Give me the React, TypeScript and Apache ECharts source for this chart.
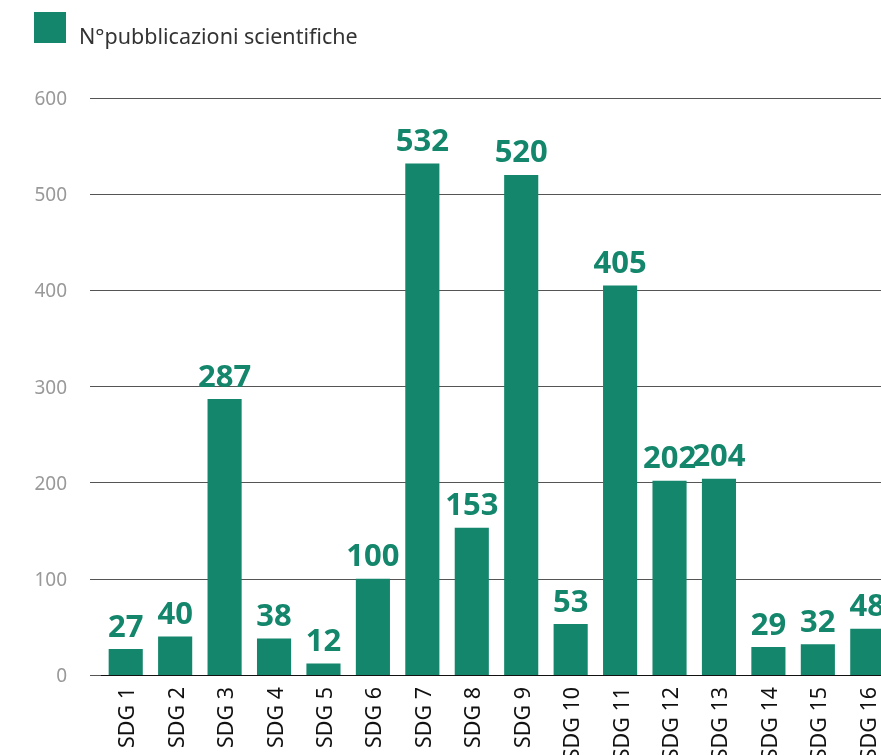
import React, { useEffect, useRef } from "react";
import * as echarts from "echarts";

const categories = ["SDG 1", "SDG 2", "SDG 3", "SDG 4", "SDG 5", "SDG 6", "SDG 7", "SDG 8", "SDG 9", "SDG 10", "SDG 11", "SDG 12", "SDG 13", "SDG 14", "SDG 15", "SDG 16"];
const publications = [27, 40, 287, 38, 12, 100, 532, 153, 520, 53, 405, 202, 204, 29, 32, 48];
const seriesName = "N°pubblicazioni scientifiche";

const GREEN = "#13866b";
const FONT = "'Noto Sans', sans-serif";

export default function App() {
  const ref = useRef<HTMLDivElement>(null);
  useEffect(() => {
    if (!ref.current) return;
    const chart = echarts.init(ref.current, null, { renderer: "svg" });
    chart.setOption({
      animation: false,
      textStyle: { fontFamily: FONT },
      legend: {
        left: 34,
        top: 12,
        padding: 0,
        itemWidth: 32,
        itemHeight: 31,
        itemGap: 10,
        icon: "rect",
        formatter: "{t|{name}}",
        textStyle: {
          fontSize: 21.5,
          color: "#333",
          fontFamily: FONT,
          rich: { t: { fontSize: 21.5, color: "#333", fontFamily: FONT, padding: [16, 0, 0, 8] } },
        },
        data: [seriesName],
      },
      grid: { left: 101, top: 98, width: 791, height: 577, outerBoundsMode: "none" },
      xAxis: {
        type: "category",
        data: categories,
        axisLine: { show: true, lineStyle: { color: "#111", width: 1 } },
        axisTick: { show: false },
        axisLabel: { rotate: 90, margin: 12, fontSize: 21.5, color: "#111", fontFamily: FONT, interval: 0 },
      },
      yAxis: {
        type: "value",
        min: 0,
        max: 600,
        interval: 100,
        axisLine: { show: false },
        axisTick: { show: true, length: 11, lineStyle: { color: "#555" } },
        splitLine: { show: true, lineStyle: { color: "#555", width: 1 } },
        axisLabel: { margin: 34, fontSize: 19, color: "#999", fontFamily: FONT },
      },
      series: [
        {
          name: seriesName,
          type: "bar",
          data: publications,
          barCategoryGap: "31%",
          itemStyle: { color: GREEN },
          label: {
            show: true,
            position: "top",
            distance: 9,
            fontSize: 31,
            fontWeight: "bold",
            color: GREEN,
            fontFamily: FONT,
          },
        },
      ],
    });
    return () => chart.dispose();
  }, []);
  return <div ref={ref} style={{ position: "fixed", left: 0, top: 0, width: 881, height: 755 }} />;
}
